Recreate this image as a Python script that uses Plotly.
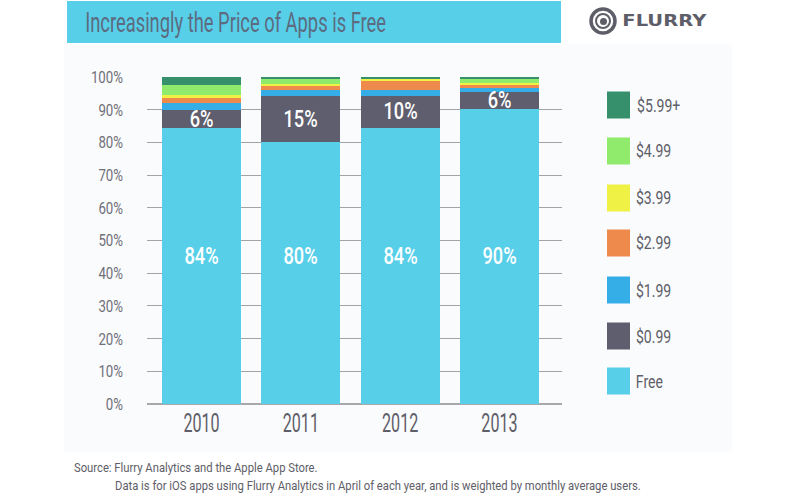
import plotly.graph_objects as go

years = ["2010", "2011", "2012", "2013"]
free = [84.4, 80.2, 84.4, 90.2]
p099 = [5.5, 13.9, 9.8, 5.2]
p199 = [2.2, 1.8, 1.9, 1.3]
p299 = [1.7, 1.4, 2.7, 1.1]
p399 = [0.6, 0.6, 0.6, 0.5]
p499 = [3.3, 1.6, 0.1, 1.3]
p599 = [2.3, 0.4, 0.5, 0.4]

series_names = ["Free", "$0.99", "$1.99", "$2.99", "$3.99", "$4.99", "$5.99+"]
series_values = [free, p099, p199, p299, p399, p499, p599]
series_colors = ["#58cfe9", "#5e5e6e", "#35ade6", "#ee8a4c", "#eff244", "#90ea6c", "#36906c"]

free_labels = ["84%", "80%", "84%", "90%"]
free_label_pos = [45.4, 45.4, 45.4, 45.4]
mid_labels = ["6%", "15%", "10%", "6%"]
mid_label_pos = [87.1, 87.3, 89.5, 93.0]

title_text = "Increasingly the Price of Apps is Free"
source_1 = "Source: Flurry Analytics and the Apple App Store."
source_2 = "Data is for iOS apps using Flurry Analytics in April of each year, and is weighted by monthly average users."

W, H = 800, 499
FONT = "Roboto"
GRAY = "#5e5e68"


def px(x):
    return x / W


def py(y):
    return 1 - y / H


def rect(x0, y0, x1, y1, color):
    return dict(type="rect", xref="paper", yref="paper", x0=px(x0), x1=px(x1),
                y0=py(y1), y1=py(y0), fillcolor=color, line_width=0, layer="below")


fig = go.Figure()
for name, vals, col in zip(series_names, series_values, series_colors):
    fig.add_trace(go.Bar(x=list(range(len(years))), y=vals, name=name,
                         marker=dict(color=col, line_width=0),
                         showlegend=False, hoverinfo="y+name"))

shapes = [rect(64, 44, 732, 452, "#fafbfd"), rect(67, 1, 561, 43, "#58cfe9")]
annotations = []


def label(x, y, text, size, color, family=FONT, weight=None):
    font = dict(family=family, size=size, color=color)
    if weight:
        font["weight"] = weight
    annotations.append(dict(xref="paper", yref="paper", x=px(x), y=py(y), text=text,
                            showarrow=False, xanchor="center", yanchor="middle", font=font))


label(235.5, 22, title_text, 28, "#5c6b80")
label(195.5, 467, source_1, 13, GRAY)
label(377.5, 485, source_2, 13, GRAY)

# logo
for r, w in [(12, 3.5), (7, 2)]:
    shapes.append(dict(type="circle", xref="paper", yref="paper",
                       x0=px(603 - r), x1=px(603 + r), y0=py(21 + r), y1=py(21 - r),
                       line=dict(color="#5e5e68", width=w), fillcolor="rgba(0,0,0,0)"))
shapes.append(dict(type="circle", xref="paper", yref="paper",
                   x0=px(600), x1=px(607), y0=py(25), y1=py(18),
                   line_width=0, fillcolor="#5e5e68"))
label(664.5, 21, "FLURRY", 15, "#5e5e68", family="DejaVu Sans", weight="bold")

# legend
legend_rows = [105, 151, 198, 243, 290, 336, 381]
legend_text_centers = [658.5, 653.5, 653.5, 653.5, 653.5, 653.5, 649.5]
for name, col, yc, xc in zip(reversed(series_names), reversed(series_colors), legend_rows, legend_text_centers):
    shapes.append(rect(607, yc - 13.5, 630, yc + 13.5, col))
    label(xc, yc, name, 18, GRAY)

for i in range(len(years)):
    for t, p in ((free_labels[i], free_label_pos[i]), (mid_labels[i], mid_label_pos[i])):
        annotations.append(dict(xref="x", yref="y", x=i, y=p, text=t, showarrow=False,
                                xanchor="center", yanchor="middle",
                                font=dict(family=FONT, size=24, color="white", weight=500)))

fig.update_layout(
    width=W, height=H, margin=dict(l=0, r=0, t=0, b=0, autoexpand=False),
    paper_bgcolor="white", plot_bgcolor="rgba(0,0,0,0)",
    barmode="stack", bargap=0.205, shapes=shapes, annotations=annotations,
    xaxis=dict(domain=[px(147), px(562)], range=[-0.549, 3.63],
               tickvals=list(range(len(years))), ticktext=years,
               showgrid=False, zeroline=False, showline=False, ticks="",
               ticklabelstandoff=1,
               tickfont=dict(family=FONT, size=26, color=GRAY)),
    yaxis=dict(domain=[py(404), py(77)], range=[0, 100], tickvals=list(range(0, 101, 10)),
               ticktext=[f"{v}%" for v in range(0, 101, 10)],
               showgrid=True, gridcolor="#a3a3a6", gridwidth=1,
               zeroline=True, zerolinecolor="#a8a8ac", zerolinewidth=2,
               showline=False, ticks="", ticklabelstandoff=23,
               tickfont=dict(family=FONT, size=17, color="#707078")),
)

# The reference uses a condensed typeface: narrow the real text horizontally by font size.
post = """
document.body.style.margin = '0';
var factors = {28: 0.655, 26: 0.62, 24: 0.76, 18: 0.78, 17: 0.78, 15: 1.3, 13: 0.865};
function condense() {
  document.querySelectorAll('svg text').forEach(function (t) {
    if (t.dataset.cond) return;
    var f = factors[Math.round(parseFloat(t.style.fontSize))];
    if (!f) return;
    var len = t.getComputedTextLength();
    if (!len) return;
    t.setAttribute('textLength', len * f);
    t.setAttribute('lengthAdjust', 'spacingAndGlyphs');
    t.dataset.cond = '1';
  });
}
condense();
setTimeout(condense, 50);
if (document.fonts && document.fonts.ready) document.fonts.ready.then(condense);
"""
fig.write_html("out.html", post_script=post, config={"displayModeBar": False})
